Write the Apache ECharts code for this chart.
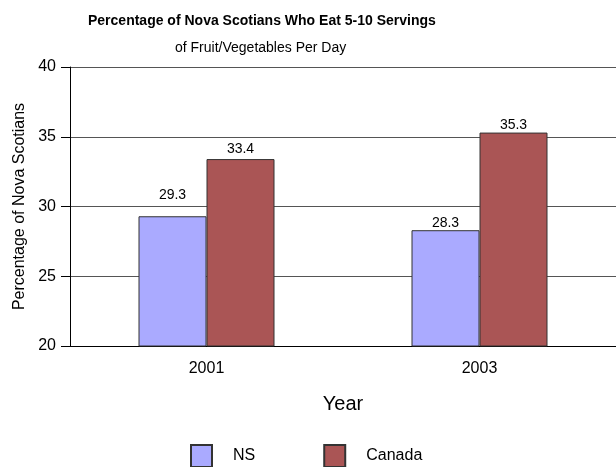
<!DOCTYPE html>
<html><head><meta charset="utf-8">
<script src="https://cdn.jsdelivr.net/npm/echarts@6/dist/echarts.min.js"></script>
<style>html,body{margin:0;padding:0;background:#fff}#c{width:616px;height:467px}</style>
</head><body><div id="c"></div>
<script>
const categories = ['2001', '2003'];
const nsValues = [29.3, 28.3];
const canadaValues = [33.4, 35.3];
const seriesNames = ['NS', 'Canada'];
const yTicks = [20, 25, 30, 35, 40];

const F = '"Liberation Sans", Arial, sans-serif';
const nsLabelDist = [14, 0];
const caLabelDist = [3, 0];
const chart = echarts.init(document.getElementById('c'), null, {renderer: 'canvas'});
const lbl = d => ({show: true, position: 'top', color: '#000', fontFamily: F, fontSize: 14, distance: d});
chart.setOption({
  animation: false,
  title: [
    {text: 'Percentage of Nova Scotians Who Eat 5-10 Servings', left: 83, top: 9,
     textStyle: {fontFamily: F, fontSize: 14, fontWeight: 'bold', color: '#000'}},
    {text: 'of Fruit/Vegetables Per Day', left: 170, top: 36,
     textStyle: {fontFamily: F, fontSize: 14, fontWeight: 'normal', color: '#000'}}
  ],
  grid: {left: 70, right: 0, top: 67, bottom: 121, containLabel: false},
  legend: {
    top: 439, left: 185, itemWidth: 21, itemHeight: 22, itemGap: 68, icon: 'rect',
    data: seriesNames,
    textStyle: {fontFamily: F, fontSize: 16, color: '#000', padding: [0, 0, 0, 16]}
  },
  xAxis: {
    type: 'category', data: categories,
    name: 'Year', nameLocation: 'middle', nameGap: 48,
    nameTextStyle: {fontFamily: F, fontSize: 20, color: '#000'},
    axisLine: {lineStyle: {color: '#000', width: 1}},
    axisTick: {alignWithLabel: true, length: 9, lineStyle: {color: '#000'}},
    axisLabel: {fontFamily: F, fontSize: 16, color: '#000', margin: 15}
  },
  yAxis: {
    type: 'value', min: 20, max: 40, interval: 5,
    name: 'Percentage of Nova Scotians', nameLocation: 'middle', nameGap: 34, nameRotate: 90,
    nameTextStyle: {fontFamily: F, fontSize: 16, color: '#000'},
    axisLine: {show: true, lineStyle: {color: '#000', width: 1}},
    axisTick: {show: true, length: 9, lineStyle: {color: '#000'}},
    axisLabel: {fontFamily: F, fontSize: 16, color: '#000', margin: 14,
      formatter: v => yTicks.includes(v) ? String(v) : ''},
    splitLine: {show: true, lineStyle: {color: '#555', width: 1}}
  },
  series: [
    {name: seriesNames[0], type: 'bar', barWidth: 68, barGap: '0%',
     data: nsValues.map((v, i) => ({value: v, label: lbl(nsLabelDist[i])})),
     itemStyle: {color: '#aaaaff', borderColor: '#333', borderWidth: 1}},
    {name: seriesNames[1], type: 'bar', barWidth: 68, barGap: '0%',
     data: canadaValues.map((v, i) => ({value: v, label: lbl(caLabelDist[i])})),
     itemStyle: {color: '#aa5555', borderColor: '#333', borderWidth: 1}}
  ]
});
</script></body></html>
